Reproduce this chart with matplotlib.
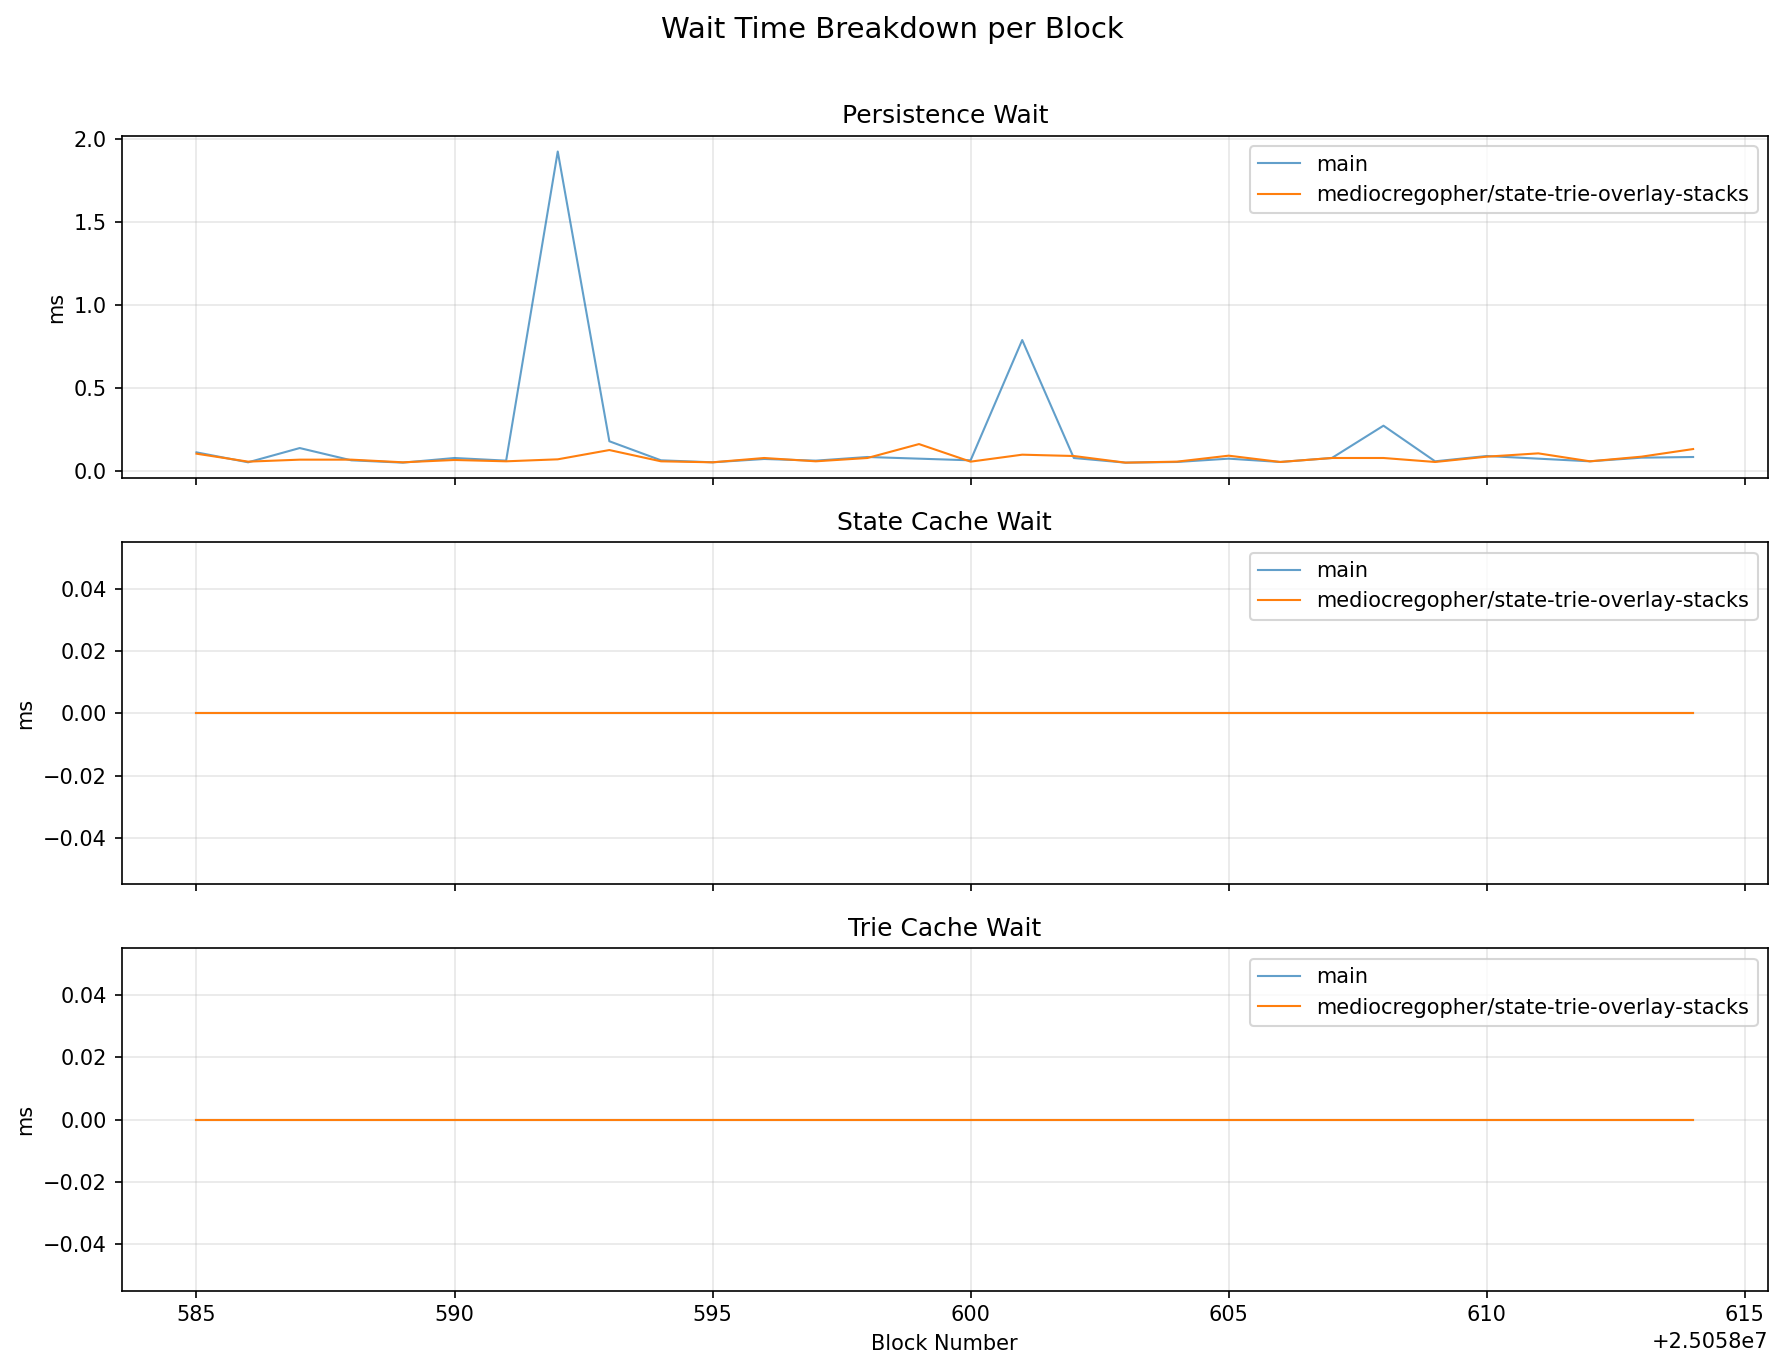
import matplotlib
matplotlib.use("Agg")
import matplotlib.pyplot as plt
import numpy as np

blocks = np.arange(25058585, 25058615)

persistence_main = [0.110, 0.050, 0.136, 0.062, 0.048, 0.076, 0.060, 1.926, 0.177, 0.062,
                    0.050, 0.070, 0.060, 0.082, 0.072, 0.062, 0.788, 0.076, 0.048, 0.052,
                    0.072, 0.052, 0.076, 0.271, 0.056, 0.088, 0.072, 0.056, 0.078, 0.082]
persistence_branch = [0.102, 0.054, 0.066, 0.066, 0.050, 0.064, 0.056, 0.068, 0.124, 0.056,
                      0.050, 0.076, 0.056, 0.076, 0.160, 0.054, 0.096, 0.088, 0.048, 0.054,
                      0.090, 0.052, 0.076, 0.076, 0.052, 0.084, 0.104, 0.056, 0.084, 0.130]
state_main = [0.0] * 30
state_branch = [0.0] * 30
trie_main = [0.0] * 30
trie_branch = [0.0] * 30

labels = ["main", "mediocregopher/state-trie-overlay-stacks"]
titles = ["Persistence Wait", "State Cache Wait", "Trie Cache Wait"]
series = [(persistence_main, persistence_branch),
          (state_main, state_branch),
          (trie_main, trie_branch)]

dpi = 150
fig, axes = plt.subplots(3, 1, figsize=(1784 / dpi, 1369 / dpi), dpi=dpi, sharex=True)
fig.suptitle("Wait Time Breakdown per Block", fontsize=14, y=0.9885)

for ax, title, (m, b) in zip(axes, titles, series):
    ax.plot(blocks, m, label=labels[0], color="C0", alpha=0.7, linewidth=1)
    ax.plot(blocks, b, label=labels[1], color="C1", linewidth=1)
    ax.set_title(title)
    ax.set_ylabel("ms")
    ax.grid(True, alpha=0.3)
    ax.legend(loc="upper right")

axes[-1].set_xlabel("Block Number")
fig.subplots_adjust(left=0.0682, right=0.991, top=0.9007, bottom=0.0572, hspace=0.187)
fig.savefig("out.png", dpi=dpi)
